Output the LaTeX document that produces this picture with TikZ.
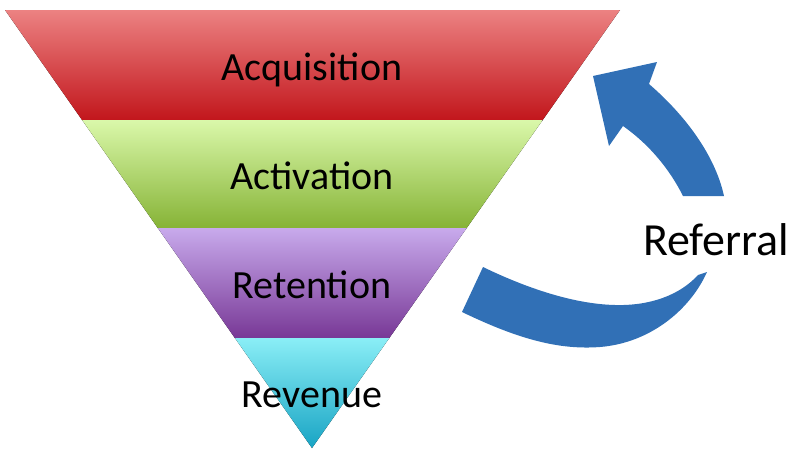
\documentclass[tikz,border=0pt]{standalone}
\usepackage{fontspec}
\setmainfont{Carlito}
\usetikzlibrary{positioning}
\definecolor{redtop}{HTML}{EC8282}
\definecolor{redbot}{HTML}{C2161C}
\definecolor{greentop}{HTML}{DAF8AA}
\definecolor{greenbot}{HTML}{86B336}
\definecolor{purpletop}{HTML}{C8AAEC}
\definecolor{purplebot}{HTML}{783896}
\definecolor{cyantop}{HTML}{8AEEF6}
\definecolor{cyanbot}{HTML}{18A4C4}
\definecolor{arrowblue}{HTML}{3170B6}

\begin{document}
\begin{tikzpicture}[x=1pt,y=-1pt,node distance=109pt,stage/.style={inner sep=0pt,text height=26pt,text depth=8pt,font=\fontsize{40}{48}\selectfont},band/.style={draw=none},bigarrow/.style={fill=arrowblue,draw=none}]
                \useasboundingbox (0,0) rectangle (800,455);

                % funnel
                \fill[band,top color=redtop,bottom color=redbot] (5,10) -- (620,10) -- (542.7,120) -- (82.1,120) -- cycle;
                \fill[band,top color=greentop,bottom color=greenbot] (82.1,120) -- (542.7,120) -- (466.7,228) -- (157.8,228) -- cycle;
                \fill[band,top color=purpletop,bottom color=purplebot] (157.8,228) -- (466.7,228) -- (389.3,338) -- (234.9,338) -- cycle;
                \fill[band,top color=cyantop,bottom color=cyanbot] (234.9,338) -- (389.3,338) -- (312,448) -- cycle;

                \node[stage] (acq) at (312,71) {Acquisition};
                \node[stage] (act) [below of=acq] {Activation};
                \node[stage] (ret) [below of=act] {Retention};
                \node[stage] (rev) [below of=ret] {Revenue};

                % referral arrow
                \fill[bigarrow] (483,267) -- (462,312) .. controls (520,340) and (560,350) .. (600,347)
                    .. controls (650,343) and (690,310) .. (707,272) -- (698,275)
                    .. controls (680,295) and (650,306) .. (615,305)
                    .. controls (570,304) and (520,285) .. (483,267) -- cycle;
                \fill[bigarrow] (593,76) -- (657,62) -- (649,84) .. controls (685,115) and (715,155) .. (724,196)
                    -- (683,196) .. controls (670,170) and (650,145) .. (623,126) -- (609,146) -- cycle;

                \node[anchor=base west,inner sep=0pt,font=\fontsize{46}{55}\selectfont] (ref) at (643,255) {Referral};

            \end{tikzpicture}
\end{document}
